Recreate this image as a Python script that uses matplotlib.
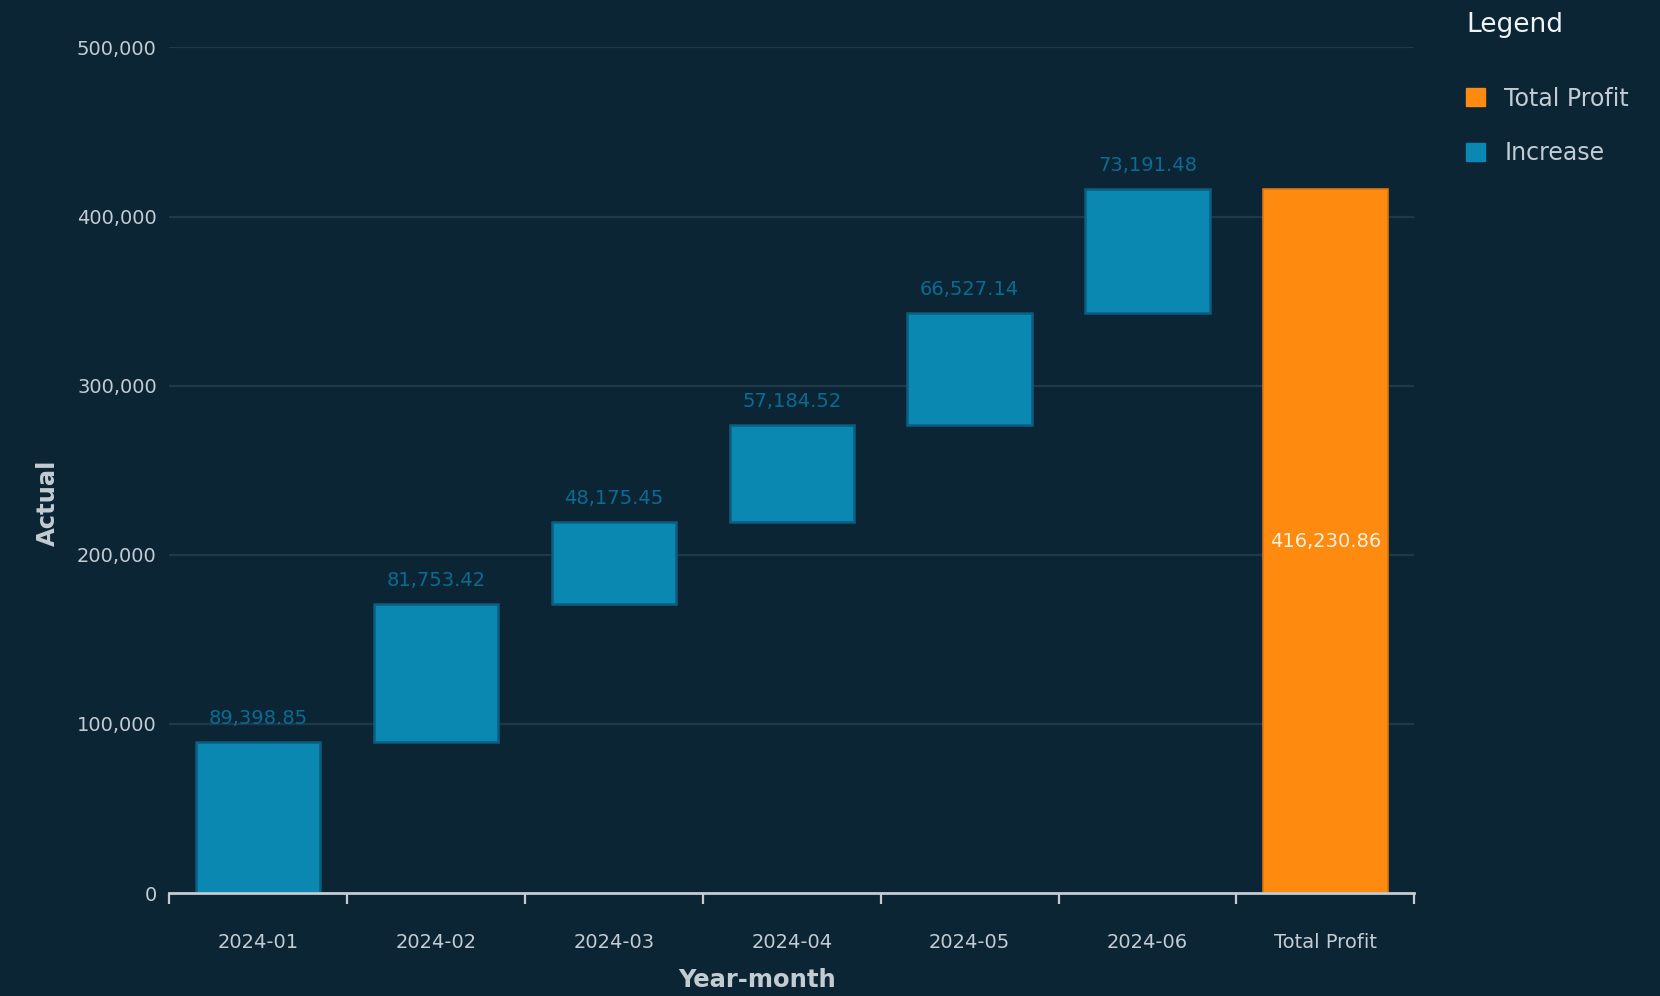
import numpy as np
import matplotlib.pyplot as plt
from matplotlib.patches import Patch
from matplotlib.ticker import FuncFormatter, FixedLocator

# data
months = ["2024-01", "2024-02", "2024-03", "2024-04", "2024-05", "2024-06"]
increase = [89398.85, 81753.42, 48175.45, 57184.52, 66527.14, 73191.48]
total_label = "Total Profit"

bg = "#0b2535"
blue = "#0a88b2"
blue_edge = "#0c5d80"
orange = "#ff8a10"
txt = "#c3ccd2"

plt.rcParams['font.family'] = ['DejaVu Sans']

fig = plt.figure(figsize=(16.6, 9.96), dpi=100, facecolor=bg)
ax = fig.add_axes([0.102, 0.1034, 0.750, 0.849])
ax.set_facecolor(bg)

cats = months + [total_label]
x = np.arange(len(cats))
bottoms = np.concatenate([[0], np.cumsum(increase)[:-1]])
total = float(np.sum(increase))

ax.bar(x[:-1], increase, bottom=bottoms, width=0.7, color=blue,
       edgecolor=blue_edge, linewidth=1.8, zorder=3)
ax.bar(x[-1], total, width=0.7, color=orange, edgecolor="#d9760e",
       linewidth=1.2, zorder=3)

for xi, b, v in zip(x[:-1], bottoms, increase):
    ax.annotate(f"{v:,.2f}", (xi, b + v), xytext=(0, 10), textcoords="offset points",
                ha="center", va="bottom", color="#0b6b92", fontsize=14)
ax.text(x[-1], total / 2, f"{total:,.2f}", ha="center", va="center",
        color="#fff1e0", fontsize=14, zorder=4)

ax.set_xlim(-0.5, len(cats) - 0.5)
ax.set_ylim(0, 500000)
ax.yaxis.set_major_locator(FixedLocator([0, 100000, 200000, 300000, 400000, 500000]))
ax.yaxis.set_major_formatter(FuncFormatter(lambda v, p: f"{v:,.0f}"))
ax.grid(axis="y", color="#1e3a49", linewidth=1.6, zorder=0)
ax.set_axisbelow(True)

ax.set_xticks(x)
ax.set_xticklabels(cats)
ax.set_xticks(np.arange(-0.5, len(cats), 1.0), minor=True)
ax.tick_params(axis="x", which="major", length=0, pad=29, labelsize=14, labelcolor=txt)
ax.tick_params(axis="x", which="minor", length=8, width=1.6, color=txt, direction="out")
ax.tick_params(axis="y", length=0, pad=9, labelsize=14, labelcolor=txt)

for s in ["top", "right", "left"]:
    ax.spines[s].set_visible(False)
ax.spines["bottom"].set_color(txt)
ax.spines["bottom"].set_linewidth(2)
ax.spines["bottom"].set_zorder(5)

ax.set_ylabel("Actual", color=txt, fontsize=17.5, fontweight="bold")
ax.yaxis.set_label_coords(-0.088, 0.461)
fig.text(0.456, 0.004, "Year-month", color=txt, fontsize=17.5, fontweight="bold",
         ha="center", va="bottom")

handles = [Patch(facecolor=orange, edgecolor=orange, label="Total Profit"),
           Patch(facecolor=blue, edgecolor=blue, label="Increase")]
leg = fig.legend(handles=handles, loc="upper left", bbox_to_anchor=(0.872, 1.007),
                 frameon=False, title="Legend", handlelength=0.8, handleheight=0.8,
                 labelspacing=1.3, handletextpad=0.8, fontsize=17, alignment="left",
                 borderpad=0.3)
leg.get_title().set_color("#eef3f6")
leg.get_title().set_fontsize(19)
for t in leg.get_texts():
    t.set_color(txt)
leg._legend_box.sep = 35

fig.savefig("out.png", dpi=100, facecolor=bg)
